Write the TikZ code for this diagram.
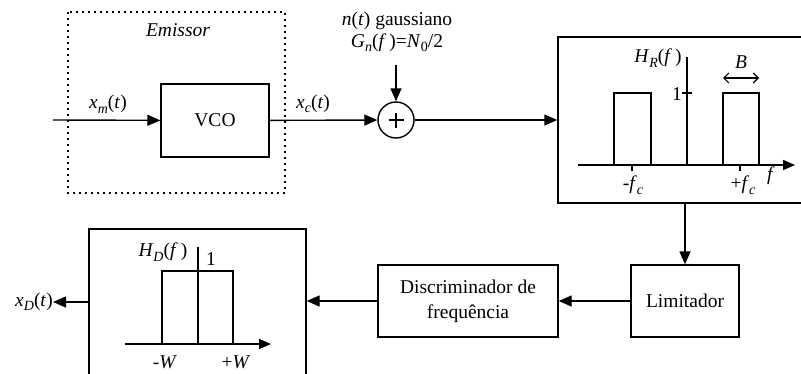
\documentclass[tikz,border=0pt]{standalone}
\usepackage{fontspec}
\setmainfont{Liberation Serif}
\setsansfont{Liberation Sans}
\usetikzlibrary{arrows.meta}
\newcommand{\sbs}[1]{\raisebox{-0.5ex}{\fontsize{14}{14}\selectfont #1}}
\begin{document}
\begin{tikzpicture}[x=1pt,y=-1pt,
  every node/.style={font=\fontsize{19.5}{25}\selectfont},
  ln/.style={line width=1.4pt},
  arr/.style={ln,-{Triangle[length=13pt,width=11pt]}},
  blk/.style={draw,line width=1.4pt,rectangle,inner sep=0pt,align=center},
]
\useasboundingbox (0,0) rectangle (801,373);
\clip (0,0) rectangle (801,373);
% emitter (dotted)
\draw[line width=1.6pt, dash pattern=on 1.6pt off 4.4pt] (68,12) rectangle (285,193);
\node[font=\fontsize{19.5}{25}\selectfont\itshape] (emis) at (178,30) {Emissor};
\node[blk,minimum width=108pt,minimum height=73pt] (vco) at (215,120.5) {VCO};
\coordinate (in) at (53,120);
\node (xm) at (108,104) {\textit{x}\sbs{\textit{m}}(\textit{t})};
\node (xc) at (313,104) {\textit{x}\sbs{\textit{c}}(\textit{t})};
% sum
\node[draw,circle,ln,minimum size=36pt,inner sep=0pt] (sum) at (396,120) {};
\draw[line width=2.4pt] ([xshift=-7.5pt]sum.center) -- ([xshift=7.5pt]sum.center);
\draw[line width=2.4pt] ([yshift=-7.5pt]sum.center) -- ([yshift=7.5pt]sum.center);
\node[align=center,font=\fontsize{19.5}{22}\selectfont] (noise) at (397,32)
  {\textit{n}(\textit{t}) gaussiano\\\textit{G}\sbs{\textit{n}}(\textit{f}\,)=\textit{N}\sbs{0}/2};
\coordinate (nz) at (396,65);
% receiver filter
\node[blk,minimum width=262pt,minimum height=166pt] (hr) at (689,120) {};
\draw[ln,-{Triangle[length=12pt,width=10pt]}] (578,165) -- (795,165);
\draw[ln] (687,165) -- (687,57);
\draw[ln] (614,165) |- (651,93) -- (651,165);
\draw[ln] (723,165) |- (759,93) -- (759,165);
\draw[ln] (682,93) -- (692,93);
\draw[ln] (632,165) -- (632,171);
\draw[ln] (740,165) -- (740,171);
\draw[line width=1.2pt,{Straight Barb[length=5pt,width=10pt]}-{Straight Barb[length=5pt,width=10pt]}] (723,78) -- (759,78);
\node (hrl) at (658,58) {\textit{H}\sbs{\textit{R}}(\textit{f}\,)};
\node[anchor=east,inner sep=1pt] (one1) at (683,94) {1};
\node (mfc) at (633,185) {-\textit{f}\sbs{\textit{c}}};
\node (pfc) at (743,185) {+\textit{f}\sbs{\textit{c}}};
\node (fax) at (771,176) {\textit{f}};
\node (bl) at (741,62) {\textit{B}};
% limiter and discriminator
\node[blk,minimum width=108pt,minimum height=72pt] (lim) at (685,301) {Limitador};
\node[blk,minimum width=180pt,minimum height=72pt] (disc) at (468,301) {Discriminador de\\frequência};
% post-detection filter
\node[blk,minimum width=217pt,minimum height=160pt] (hd) at (197.5,309) {};
\draw[ln,-{Triangle[length=12pt,width=10pt]}] (125,344) -- (271,344);
\draw[ln] (198,344) -- (198,247);
\draw[ln] (162,344) |- (233,271) -- (233,344);
\node (hdl) at (163,252) {\textit{H}\sbs{\textit{D}}(\textit{f}\,)};
\node (one2) at (211,259) {1};
\node (mw) at (165,362) {-\textit{W}};
\node (pw) at (236,362) {+\textit{W}};
\node[anchor=east,inner sep=0pt] (xd) at (53,302) {\textit{x}\sbs{\textit{D}}(\textit{t})};
% connectors
\draw[arr] (in) -- (vco);
\draw[arr] (vco) -- (sum);
\draw[arr] (nz) -- (sum);
\draw[arr] (sum) -- (hr.west |- sum);
\draw[arr] (hr.south -| lim) -- (lim);
\draw[arr] (lim) -- (disc);
\draw[arr] (disc) -- (disc -| hd.east);
\draw[arr] (hd.west |- xd) -- (xd);
\end{tikzpicture}
\end{document}
